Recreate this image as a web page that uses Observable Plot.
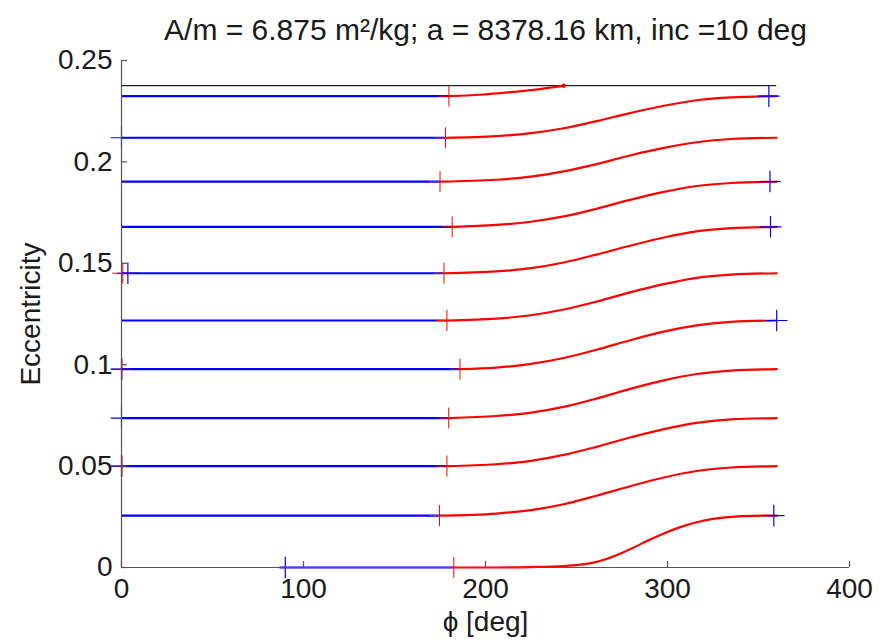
<!DOCTYPE html>
<html><head><meta charset="utf-8">
<script src="https://cdn.jsdelivr.net/npm/d3@7"></script>
<script src="https://cdn.jsdelivr.net/npm/@observablehq/plot@0.6"></script>
<style>body{margin:0;background:#fff;}</style>
</head><body><div id="chart"></div>
<script>
const titleText = "A/m = 6.875 m²/kg; a = 8378.16 km, inc =10 deg";
const xLabel = "ϕ [deg]";
const yLabel = "Eccentricity";
const xTicks = [0, 100, 200, 300, 400];
const xTickLabels = ["0", "100", "200", "300", "400"];
const yTicks = [0, 0.05, 0.1, 0.15, 0.2, 0.25];
const yTickLabels = ["0", "0.05", "0.1", "0.15", "0.2", "0.25"];

// eccentricity levels of the blue (constant) segments
const levels = [0, 0.0256, 0.0500, 0.0737, 0.0978, 0.1218, 0.1451, 0.1680, 0.1903, 0.2119, 0.2324];
const blueStartPhi = [87, 0, 0, 0, 0, 0, 0, 0, 0, 0, 0];
const switchPhi = [182.6, 174.7, 178.8, 179.8, 186.0, 178.8, 177.2, 181.7, 175.0, 178.0, 179.9];
const limitEcc = 0.2376;
const limitPhiEnd = 360;

// red curves starting from levels 1..9
const curvePhi = [206, 225, 243, 261, 280, 298, 316, 335, 360];
const redCurve1 = [0.0266, 0.0283, 0.0312, 0.0354, 0.0402, 0.0444, 0.0476, 0.0493, 0.0500];
const redCurve2 = [0.0509, 0.0526, 0.0555, 0.0595, 0.0642, 0.0682, 0.0713, 0.0730, 0.0737];
const redCurve3 = [0.0747, 0.0764, 0.0792, 0.0833, 0.0882, 0.0923, 0.0954, 0.0971, 0.0978];
const redCurve4 = [0.0986, 0.1004, 0.1033, 0.1074, 0.1122, 0.1163, 0.1194, 0.1211, 0.1218];
const redCurve5 = [0.1227, 0.1244, 0.1272, 0.1311, 0.1358, 0.1397, 0.1428, 0.1444, 0.1451];
const redCurve6 = [0.1460, 0.1476, 0.1504, 0.1543, 0.1588, 0.1627, 0.1657, 0.1673, 0.1680];
const redCurve7 = [0.1689, 0.1705, 0.1731, 0.1769, 0.1814, 0.1852, 0.1881, 0.1896, 0.1903];
const redCurve8 = [0.1912, 0.1927, 0.1953, 0.1989, 0.2033, 0.2069, 0.2097, 0.2113, 0.2119];
const redCurve9 = [0.2127, 0.2142, 0.2166, 0.2201, 0.2242, 0.2277, 0.2304, 0.2318, 0.2324];
// red curve from level 0
const bottomPhi = [206, 225, 243, 252, 261, 271, 280, 289, 298, 307, 316, 325, 335, 347, 360];
const bottomEcc = [0.0000, 0.0002, 0.0007, 0.0014, 0.0028, 0.0057, 0.0092, 0.0132, 0.0168, 0.0199, 0.0223, 0.0240, 0.0250, 0.0255, 0.0256];
// red curve from level 10, stops at the limit
const topPhi = [197, 215, 230, 243];
const topEcc = [0.2331, 0.2345, 0.2359, 0.2376];

// "+" markers
const bluePlusPhi = [0, 3.5, 0, 0, 0, 355.7, 356.3, 356.6, 360.0, 358.4, 90];
const bluePlusEcc = [0.2119, 0.1451, 0.0978, 0.0737, 0.0500, 0.2324, 0.1903, 0.1680, 0.1218, 0.0256, 0];
const redPlusExtraPhi = [0.7, 0.3, 0.3];
const redPlusExtraEcc = [0.1451, 0.0978, 0.0500];

const blueRows = levels.map((e, i) => ({x1: blueStartPhi[i], x2: switchPhi[i], y: e}));
const redCurves = [redCurve1, redCurve2, redCurve3, redCurve4, redCurve5, redCurve6, redCurve7, redCurve8, redCurve9];
const redRows = [];
redRows.push({id: 0, x: switchPhi[0], y: levels[0]});
bottomPhi.forEach((p, j) => redRows.push({id: 0, x: p, y: bottomEcc[j]}));
redCurves.forEach((c, k) => {
  const i = k + 1;
  redRows.push({id: i, x: switchPhi[i], y: levels[i]});
  curvePhi.forEach((p, j) => redRows.push({id: i, x: p, y: c[j]}));
});
redRows.push({id: 10, x: switchPhi[10], y: levels[10]});
topPhi.forEach((p, j) => redRows.push({id: 10, x: p, y: topEcc[j]}));

const redPlus = switchPhi.map((p, i) => ({x: p, y: levels[i]}))
  .concat(redPlusExtraPhi.map((p, i) => ({x: p, y: redPlusExtraEcc[i]})));
const bluePlus = bluePlusPhi.map((p, i) => ({x: p, y: bluePlusEcc[i]}));
const endDot = [{x: topPhi[topPhi.length - 1], y: topEcc[topEcc.length - 1]}];

const W = 882, H = 644, ML = 121, MR = 33, MT = 60, MB = 77;
const frameW = W - ML - MR, frameH = H - MT - MB, tickLen = 6;
const axisColor = "#555";
const textColor = "#1a1a1a";

const chart = Plot.plot({
  width: W,
  height: H,
  marginLeft: ML,
  marginRight: MR,
  marginTop: MT,
  marginBottom: MB,
  style: {fontFamily: "'Liberation Sans', Arial, sans-serif", fontSize: "28px", background: "#fff", color: textColor},
  x: {domain: [0, 400]},
  y: {domain: [0, 0.25]},
  marks: [
    Plot.ruleY([limitEcc], {x1: 0, x2: limitPhiEnd, stroke: "#222", strokeWidth: 1.2}),
    Plot.ruleY(blueRows, {x1: "x1", x2: "x2", y: "y", stroke: "#0000ff", strokeWidth: 2.2}),
    Plot.line(redRows, {x: "x", y: "y", z: "id", stroke: "#ff0000", strokeWidth: 2.2, curve: "monotone-x"}),
    Plot.dot(redPlus, {x: "x", y: "y", symbol: "plus", r: 6.8, stroke: "#ff0000", strokeWidth: 1}),
    Plot.dot(bluePlus, {x: "x", y: "y", symbol: "plus", r: 7, stroke: "#0000ff", strokeWidth: 1.2}),
    Plot.dot(endDot, {x: "x", y: "y", r: 2.2, fill: "#ff0000"}),
    Plot.ruleX([0], {stroke: axisColor, strokeWidth: 1.2}),
    Plot.ruleY([0], {stroke: axisColor, strokeWidth: 1.2}),
    // inward ticks
    Plot.ruleX(xTicks, {x: d => d, insetTop: frameH - tickLen, stroke: axisColor, strokeWidth: 1.2}),
    Plot.ruleY(yTicks, {y: d => d, insetRight: frameW - tickLen, stroke: axisColor, strokeWidth: 1.2}),
    Plot.axisX(xTicks, {anchor: "bottom", tickSize: 0, tickPadding: 11, fill: textColor, fontSize: 28, label: null,
      tickFormat: d => xTickLabels[xTicks.indexOf(d)]}),
    Plot.axisY(yTicks, {anchor: "left", tickSize: 0, tickPadding: 9, fill: textColor, fontSize: 28, label: null,
      tickFormat: d => yTickLabels[yTicks.indexOf(d)]}),
    Plot.text([titleText], {frameAnchor: "top", dy: -30, lineAnchor: "middle", textAnchor: "middle", fontSize: 30, fill: textColor}),
    Plot.text([yLabel], {frameAnchor: "left", rotate: -90, dx: -90, lineAnchor: "middle", textAnchor: "middle", fontSize: 28, fill: textColor}),
    Plot.text([xLabel], {frameAnchor: "bottom", dy: 55, lineAnchor: "middle", textAnchor: "middle", fontSize: 28, fill: textColor})
  ]
});
document.getElementById("chart").appendChild(chart);
</script>
</body></html>
